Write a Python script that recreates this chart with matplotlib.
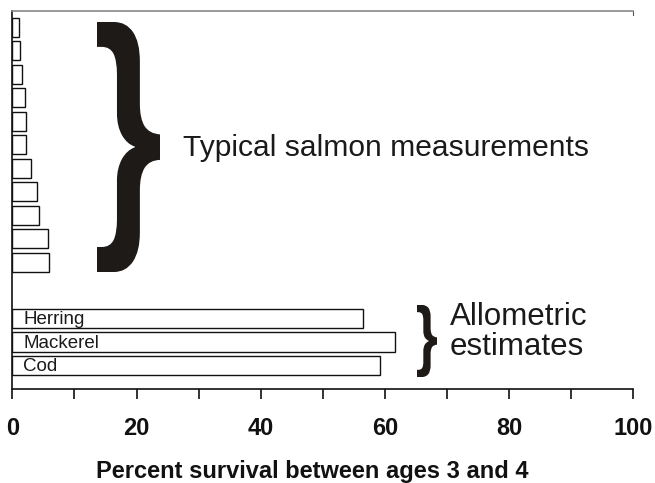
import numpy as np
import matplotlib
matplotlib.use("Agg")
import matplotlib.pyplot as plt
from matplotlib.textpath import TextPath
from matplotlib.patches import PathPatch
from matplotlib.font_manager import FontProperties
from matplotlib.transforms import Affine2D

plt.rcParams['font.family'] = ['Liberation Sans', 'DejaVu Sans']

# データ (上から順の鮭の測定値, 下から順の推定値)
salmon_values = [1.0, 1.25, 1.55, 2.0, 2.25, 2.25, 3.05, 4.0, 4.25, 5.75, 5.95]
allometric_names = ["Cod", "Mackerel", "Herring"]
allometric_values = [59.2, 61.7, 56.5]
xticks = [0, 20, 40, 60, 80, 100]

W, H = 655, 483
fig = plt.figure(figsize=(W / 100, H / 100), dpi=100)
ax = fig.add_axes([12.3 / W, (H - 389) / H, (633.3 - 12.3) / W, (389 - 11) / H])

# 位置: 推定値が下, 間を空けて鮭
y_allo = np.arange(len(allometric_values))
y_salmon = len(allometric_values) - 1 + 2.4 + np.arange(len(salmon_values))[::-1]

bar_kw = dict(height=0.81, color='white', edgecolor='#111111', linewidth=1.0)
ax.barh(y_allo, allometric_values, **bar_kw)
ax.barh(y_salmon, salmon_values, **bar_kw)

for y, name in zip(y_allo, allometric_names):
    ax.text(1.8, y - 0.05, name, va='center', ha='left', fontsize=13.5, color='#1a1a1a')

ax.set_xlim(0, 100)
ax.set_ylim(-1.0, 15.09)
ax.set_xticks(xticks)
ax.set_xticks(np.arange(10, 100, 20), minor=True)
ax.set_yticks([])
ax.tick_params(axis='x', which='both', direction='out', length=7, width=1.2, color='#111111')
ax.tick_params(axis='x', which='major', pad=13, labelsize=17)
for lab in ax.get_xticklabels():
    lab.set_fontweight('bold')
    lab.set_color('#111111')

ax.spines['left'].set_color('#111111')
ax.spines['left'].set_linewidth(1.2)
ax.spines['bottom'].set_color('#111111')
ax.spines['bottom'].set_linewidth(1.2)
ax.spines['top'].set_color('#888888')
ax.spines['top'].set_linewidth(1.2)
ax.spines['right'].set_color('#555555')
ax.spines['right'].set_bounds(15.09 - 0.18, 15.09)

ax.set_xlabel("Percent survival between ages 3 and 4", fontsize=17, fontweight='bold',
              color='#111111')
ax.xaxis.set_label_coords((312 - 12.3) / 621, (389 - 460) / 378)


def draw_brace(x0, y0, x1, y1):
    # 波括弧をピクセル枠 (左上基準) に合わせて描く
    tp = TextPath((0, 0), '}', size=1, prop=FontProperties(family='Liberation Sans', weight='bold'))
    ext = tp.get_extents()
    sx = (x1 - x0) / ext.width / W
    sy = (y1 - y0) / ext.height / H
    tr = Affine2D().translate(-ext.x0, -ext.y0).scale(sx, sy).translate(x0 / W, 1 - y1 / H)
    fig.add_artist(PathPatch(tp, transform=tr + fig.transFigure, facecolor='#1e1a17', lw=0))


draw_brace(97, 22, 160, 272)
draw_brace(417, 305, 437, 377)

fig.text(183 / W, 1 - 156 / H, "Typical salmon measurements", fontsize=21.6,
         va='baseline', ha='left', color='#1a1a1a')
fig.text(450 / W, 1 - 355 / H, "Allometric\nestimates", fontsize=22.5, va='baseline',
         ha='left', color='#1a1a1a', linespacing=1.0)

fig.savefig("out.png", dpi=100)
